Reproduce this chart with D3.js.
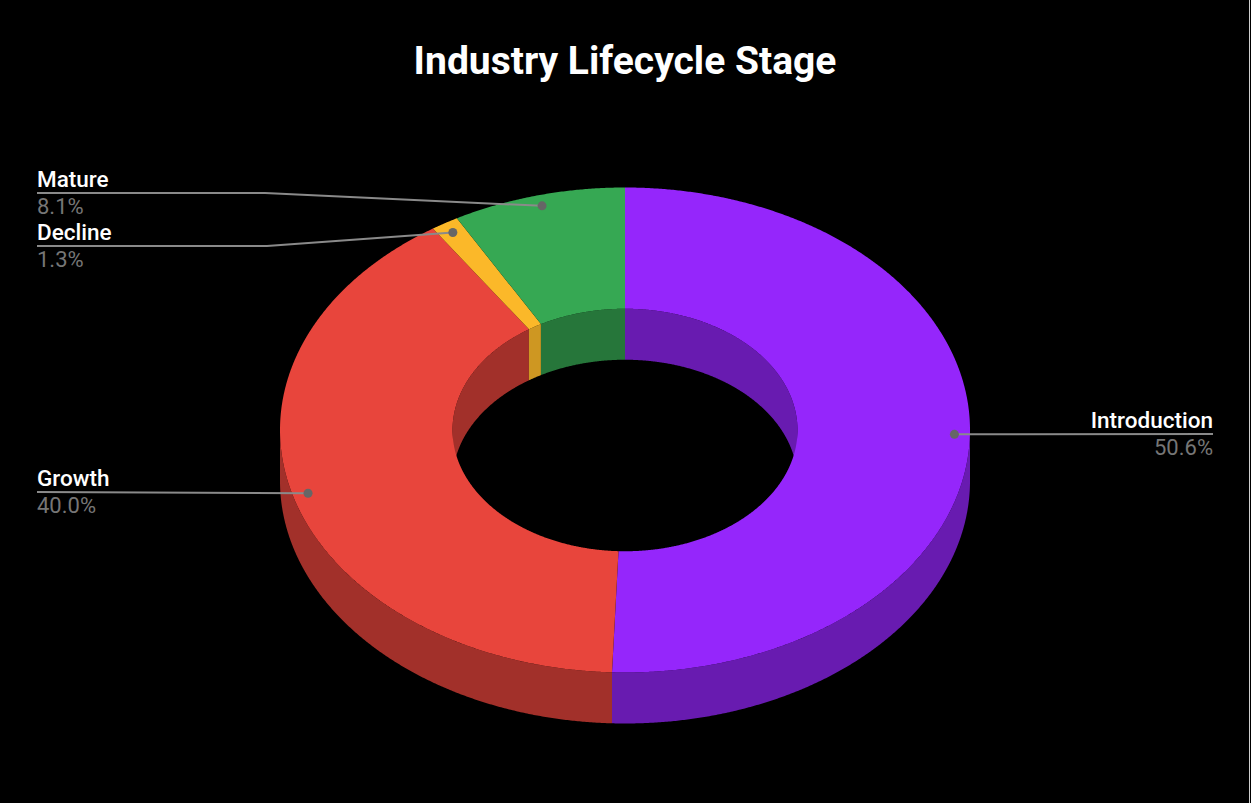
<!DOCTYPE html>
<html>
<head>
<meta charset="utf-8">
<script src="https://cdnjs.cloudflare.com/ajax/libs/d3/7.8.5/d3.min.js"></script>
<style>
  html, body { margin: 0; padding: 0; background: #000; }
  svg { display: block; }
</style>
</head>
<body>
<svg id="chart" width="1251" height="803"></svg>
<script>
// Lifecycle stages and their share of industries (percent)
const categories = ["Introduction", "Growth", "Decline", "Mature"];
const values = [50.6, 40.0, 1.3, 8.1];
const colors = ["#9526fb", "#e8453c", "#fbb829", "#36a853"];
const title = "Industry Lifecycle Stage";

const W = 1251, H = 803;
const svg = d3.select("#chart");
svg.append("rect").attr("width", W).attr("height", H).attr("fill", "#000");
svg.append("line").attr("x1", W - 1.5).attr("x2", W - 1.5).attr("y1", 0).attr("y2", H)
  .attr("stroke", "#cfcfcf").attr("stroke-width", 1);

// Tilted donut geometry
const cx = 625, cy = 430, rx = 345, ry = 242.5, holeK = 0.5, depth = 51;

const pie = d3.pie().sort(null).value(d => d.value).startAngle(0).endAngle(2 * Math.PI);
const slices = pie(categories.map((c, i) => ({ name: c, value: values[i], color: colors[i] })));

// Project an angle (clockwise from 12 o'clock) at radius fraction k onto the tilted plane
const proj = (a, k, dy = 0) => [cx + rx * k * Math.sin(a), cy - ry * k * Math.cos(a) + dy];
function arcPts(a0, a1, k, dy) {
  const n = Math.max(2, Math.ceil(Math.abs(a1 - a0) / 0.005));
  return d3.range(n + 1).map(i => proj(a0 + (a1 - a0) * i / n, k, dy));
}
const line = d3.line().curve(d3.curveLinear);
const band = (a0, a1, k, dyTop, dyBot) =>
  line(arcPts(a0, a1, k, dyTop).concat(arcPts(a1, a0, k, dyBot))) + "Z";

const g = svg.append("g");

// Outer wall: only the front half (angles between 90° and 270°) faces the viewer
slices.forEach(s => {
  const lo = Math.max(s.startAngle, Math.PI / 2), hi = Math.min(s.endAngle, 3 * Math.PI / 2);
  if (lo < hi) {
    g.append("path").attr("d", band(lo, hi, 1, 0, depth))
      .attr("fill", d3.color(s.data.color).darker(1));
  }
});

// Inner wall of the hole: the back half is visible through the opening
slices.forEach(s => {
  [[0, Math.PI / 2], [3 * Math.PI / 2, 2 * Math.PI]].forEach(([r0, r1]) => {
    const lo = Math.max(s.startAngle, r0), hi = Math.min(s.endAngle, r1);
    if (lo < hi) {
      g.append("path").attr("d", band(lo, hi, holeK, 0, depth))
        .attr("fill", d3.color(s.data.color).darker(s.data.name === "Decline" ? 0.55 : 1));
    }
  });
});

// Top face of each ring segment
slices.forEach(s => {
  const pts = arcPts(s.startAngle, s.endAngle, 1, 0)
    .concat(arcPts(s.endAngle, s.startAngle, holeK, 0));
  g.append("path").attr("d", line(pts) + "Z").attr("fill", s.data.color);
});

// Title
svg.append("text").attr("x", 625).attr("y", 74).attr("text-anchor", "middle")
  .attr("font-family", "Roboto, sans-serif").attr("font-weight", 700)
  .attr("font-size", 39).attr("fill", "#fff").text(title);

// Leader lines and labels
const labelSpec = {
  "Introduction": { side: "right", y: 434, x: 1213 },
  "Growth": { side: "left", y: 492, x: 37 },
  "Decline": { side: "left", y: 246, x: 37, knee: 267 },
  "Mature": { side: "left", y: 193, x: 37, knee: 265 }
};
const fmt = d3.format(".1f");
const lab = svg.append("g").attr("font-family", "Roboto, sans-serif");
slices.forEach(s => {
  const spec = labelSpec[s.data.name];
  const mid = (s.startAngle + s.endAngle) / 2;
  const dot = proj(mid, 0.955, 0);
  let pts;
  if (spec.knee) pts = [dot, [spec.knee, spec.y], [spec.x, spec.y]];
  else pts = [dot, [spec.x, spec.y]];
  lab.append("path").attr("d", line(pts)).attr("fill", "none")
    .attr("stroke", "#8a8a8a").attr("stroke-width", 2);
  lab.append("circle").attr("cx", dot[0]).attr("cy", dot[1]).attr("r", 4.5).attr("fill", "#666");
  const anchor = spec.side === "right" ? "end" : "start";
  lab.append("text").attr("x", spec.x).attr("y", spec.y - 6).attr("text-anchor", anchor)
    .attr("font-size", 22.5).attr("font-weight", 500).attr("fill", "#fff").text(s.data.name);
  lab.append("text").attr("x", spec.x).attr("y", spec.y + 21).attr("text-anchor", anchor)
    .attr("font-size", 22).attr("fill", "#767676").text(fmt(s.data.value) + "%");
});
</script>
</body>
</html>
